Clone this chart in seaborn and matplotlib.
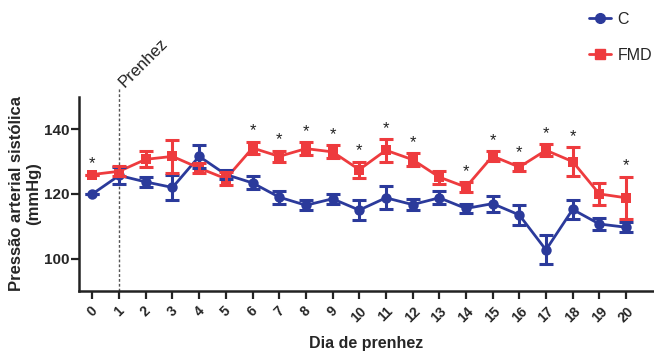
import numpy as np
import pandas as pd
import matplotlib
matplotlib.use("Agg")
import matplotlib.pyplot as plt
import seaborn as sns
from matplotlib.lines import Line2D

# Data (mean +/- SEM)
days = list(range(21))
c_mean = [120, 125.7, 123.7, 122, 131.6, 126, 123.4, 119, 116.5, 118.5, 115,
          118.8, 116.7, 118.8, 115.5, 117, 113.5, 102.7, 115.2, 110.7, 109.7]
c_err = [0, 2.5, 1.5, 4, 3.5, 1.5, 2, 2, 1.5, 1.5, 3,
         3.5, 1.8, 2, 1.5, 2.5, 3, 4.5, 3, 2, 1.5]
fmd_mean = [126, 127, 130.7, 131.6, 128, 124.7, 134.2, 131.6, 134, 133, 127.5,
            133.5, 130.6, 125.2, 122.1, 131.7, 128.3, 133.5, 130, 120, 118.8]
fmd_err = [0, 1.5, 2.5, 5, 1.5, 2, 2, 1.8, 2, 2, 2.5,
           3.5, 2, 2, 1.5, 1.5, 1.3, 1.8, 4.5, 3.5, 6.5]
signif_days = [0, 6, 7, 8, 9, 10, 11, 12, 14, 15, 16, 17, 18, 20]

blue = "#2B3A9B"
red = "#EE3B3E"

df = pd.DataFrame({
    "Dia": days * 2,
    "PAS": c_mean + fmd_mean,
    "Grupo": ["C"] * 21 + ["FMD"] * 21,
})

sns.set_style("ticks")
plt.rcParams["font.family"] = ["Liberation Sans", "DejaVu Sans"]

fig = plt.figure(figsize=(6.54, 3.51), dpi=100)
ax = fig.add_axes([0.121, 0.171, 0.879, 0.553])

sns.lineplot(data=df, x="Dia", y="PAS", hue="Grupo", style="Grupo",
             palette={"C": blue, "FMD": red}, markers={"C": "o", "FMD": "s"},
             dashes=False, markersize=7.5, linewidth=2, markeredgewidth=0,
             ax=ax, legend=False, zorder=3)

ax.errorbar(days, c_mean, yerr=c_err, fmt="none", ecolor=blue,
            elinewidth=2.2, capsize=5, capthick=2.2, zorder=3)
ax.errorbar(days, fmd_mean, yerr=fmd_err, fmt="none", ecolor=red,
            elinewidth=2.2, capsize=5, capthick=2.2, zorder=3)

# significance marks
for d in signif_days:
    ax.text(d, fmd_mean[d] + fmd_err[d] + 1.0, "*", ha="center", va="bottom",
            fontsize=12, color="#222222")

# pregnancy start marker
ax.axvline(1, ymin=0, ymax=1.05, color="#555555", linestyle=(0, (2, 1.5)),
           linewidth=1, clip_on=False, zorder=1)
ax.text(0.9, 152, "Prenhez", rotation=45, ha="left", va="bottom",
        fontsize=12, color="#222222")

ax.set_xlim(-0.5, 21.05)
ax.set_ylim(90, 150)
ax.set_xticks(days)
ax.set_xticklabels([str(d) for d in days], rotation=45, fontweight="bold",
                   fontsize=10)
ax.set_yticks([100, 120, 140])
ax.set_yticklabels(["100", "120", "140"], fontweight="bold", fontsize=11)
ax.tick_params(axis="both", width=1.6, length=6, color="#222222")
ax.tick_params(axis="y", pad=1)
ax.set_xlabel("Dia de prenhez", fontweight="bold", fontsize=11.5, labelpad=8)
ax.set_ylabel("Pressão arterial sistólica\n(mmHg)", fontweight="bold",
              fontsize=12, labelpad=2, linespacing=1.15)
for side in ["top", "right"]:
    ax.spines[side].set_visible(False)
for side in ["left", "bottom"]:
    ax.spines[side].set_linewidth(1.8)
    ax.spines[side].set_color("#222222")

# legend
handles = [
    Line2D([], [], color=blue, marker="o", markersize=7, linewidth=2),
    Line2D([], [], color=red, marker="s", markersize=7, linewidth=2),
]
fig.legend(handles, ["C", "FMD"], loc="upper left",
           bbox_to_anchor=(0.895, 0.975), frameon=False, fontsize=11.5,
           handlelength=1.4, handletextpad=0.4, labelspacing=1.3,
           borderpad=0.2, borderaxespad=0)

fig.savefig("out.png", dpi=100)
